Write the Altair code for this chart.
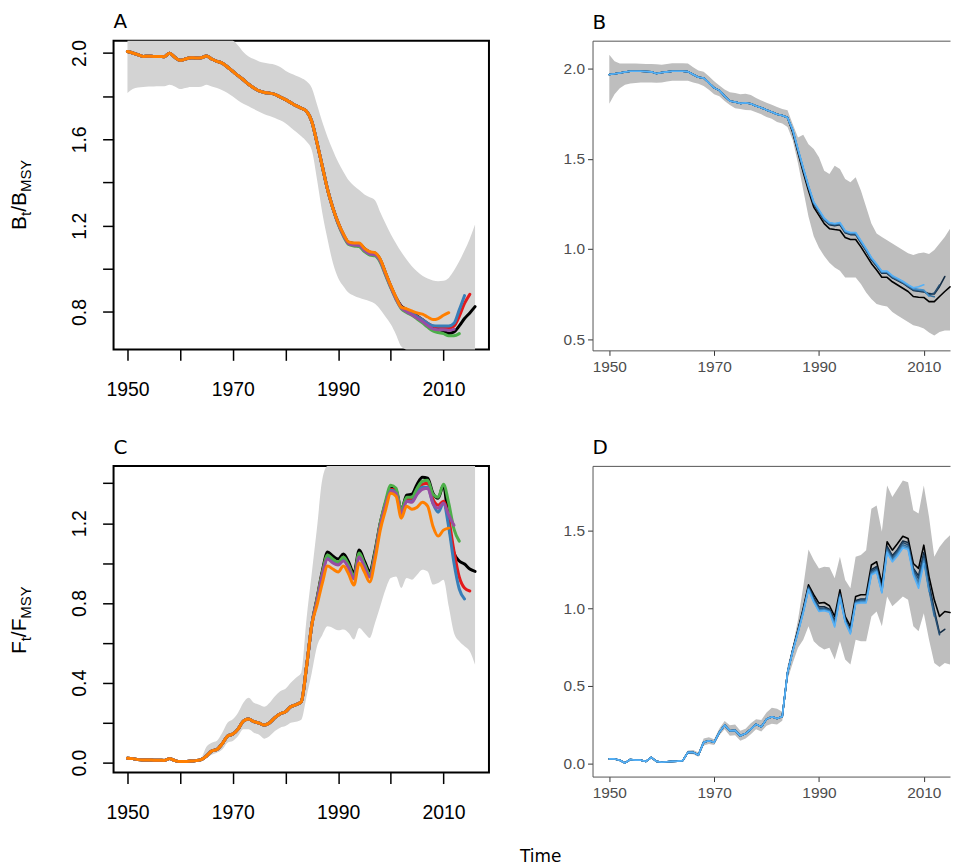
import altair as alt
import pandas as pd

# ---------------- data ----------------
YEARS_AC = list(range(1950, 2017))   # panels A and C
YEARS_BD = list(range(1950, 2016))   # panels B and D

# Panel A : Bt/BMSY (reference run + CI)
A_REF = [2.007, 2.000, 1.992, 1.984, 1.985, 1.984, 1.984, 1.983, 1.999, 1.980,
         1.966, 1.972, 1.978, 1.977, 1.978, 1.986, 1.972, 1.961, 1.953, 1.935,
         1.915, 1.895, 1.876, 1.855, 1.838, 1.824, 1.817, 1.814, 1.808, 1.796,
         1.784, 1.770, 1.756, 1.744, 1.730, 1.683, 1.583, 1.475, 1.367, 1.282,
         1.213, 1.159, 1.123, 1.118, 1.117, 1.093, 1.078, 1.073, 1.043, 0.981,
         0.920, 0.866, 0.827, 0.812, 0.799, 0.782, 0.765, 0.745, 0.727, 0.720,
         0.712, 0.701, 0.708, 0.736, 0.770, 0.796, 0.825]
A_HI = [2.20, 2.21, 2.21, 2.21, 2.21, 2.21, 2.21, 2.21, 2.22, 2.21,
        2.20, 2.20, 2.21, 2.21, 2.21, 2.21, 2.19, 2.16, 2.12, 2.09,
        2.065, 2.035, 2.005, 1.984, 1.972, 1.961, 1.955, 1.950, 1.946, 1.935,
        1.918, 1.905, 1.895, 1.884, 1.869, 1.838, 1.760, 1.680, 1.610, 1.550,
        1.495, 1.450, 1.410, 1.385, 1.365, 1.345, 1.332, 1.318, 1.262, 1.210,
        1.160, 1.118, 1.078, 1.043, 1.012, 0.988, 0.968, 0.955, 0.946, 0.943,
        0.945, 0.958, 0.992, 1.035, 1.085, 1.140, 1.205]
A_LO = [1.815, 1.833, 1.840, 1.843, 1.845, 1.845, 1.846, 1.846, 1.853, 1.845,
        1.833, 1.838, 1.843, 1.843, 1.844, 1.853, 1.845, 1.838, 1.827, 1.815,
        1.799, 1.780, 1.765, 1.753, 1.740, 1.728, 1.716, 1.708, 1.699, 1.688,
        1.675, 1.655, 1.635, 1.614, 1.590, 1.550, 1.413, 1.259, 1.136, 1.028,
        0.958, 0.920, 0.889, 0.876, 0.866, 0.858, 0.850, 0.838, 0.812, 0.778,
        0.743, 0.695, 0.640, 0.610, 0.590, 0.570, 0.555, 0.545, 0.535, 0.530,
        0.528, 0.528, 0.530, 0.530, 0.525, 0.515, 0.500]
# retrospective peels of panel A, own values from 1990 on
A_PEEL_FROM = 1990
A_RED = [1.213, 1.159, 1.122, 1.116, 1.115, 1.091, 1.076, 1.071, 1.041, 0.979,
         0.919, 0.865, 0.825, 0.808, 0.795, 0.780, 0.765, 0.748, 0.735, 0.730,
         0.728, 0.725, 0.735, 0.780, 0.840, 0.882]
A_BLUE = [1.212, 1.158, 1.121, 1.115, 1.113, 1.089, 1.074, 1.069, 1.039, 0.977,
          0.918, 0.864, 0.822, 0.806, 0.793, 0.778, 0.764, 0.748, 0.737, 0.735,
          0.735, 0.735, 0.748, 0.810, 0.876]
A_GREEN = [1.208, 1.152, 1.113, 1.106, 1.103, 1.080, 1.064, 1.060, 1.031, 0.971,
           0.912, 0.858, 0.815, 0.798, 0.785, 0.768, 0.750, 0.730, 0.712, 0.705,
           0.700, 0.690, 0.690, 0.700]
A_PURPLE = [1.210, 1.155, 1.117, 1.110, 1.108, 1.085, 1.069, 1.065, 1.036, 0.975,
            0.915, 0.860, 0.818, 0.802, 0.788, 0.772, 0.756, 0.738, 0.722, 0.718,
            0.718, 0.715, 0.720]
A_ORANGE = [1.215, 1.162, 1.125, 1.120, 1.120, 1.095, 1.080, 1.075, 1.045, 0.983,
            0.922, 0.868, 0.822, 0.815, 0.805, 0.796, 0.790, 0.777, 0.765, 0.770,
            0.785, 0.797]

# Panel C : Ft/FMSY
C_REF = [0.022, 0.020, 0.015, 0.013, 0.013, 0.012, 0.012, 0.011, 0.020, 0.010,
         0.005, 0.006, 0.008, 0.010, 0.015, 0.033, 0.058, 0.066, 0.095, 0.133,
         0.143, 0.168, 0.208, 0.218, 0.205, 0.198, 0.188, 0.200, 0.225, 0.245,
         0.255, 0.280, 0.290, 0.305, 0.480, 0.690, 0.825, 0.960, 1.055, 1.035,
         1.020, 1.045, 1.005, 0.950, 1.065, 1.010, 0.960, 1.060, 1.200, 1.300,
         1.375, 1.365, 1.265, 1.340, 1.345, 1.395, 1.430, 1.425, 1.350, 1.325,
         1.390, 1.200, 1.050, 1.010, 0.995, 0.970, 0.958]
C_HI = [0.026, 0.024, 0.019, 0.017, 0.017, 0.016, 0.016, 0.015, 0.024, 0.014,
        0.009, 0.010, 0.012, 0.015, 0.025, 0.080, 0.100, 0.110, 0.150, 0.200,
        0.217, 0.250, 0.300, 0.325, 0.300, 0.290, 0.280, 0.300, 0.333, 0.358,
        0.370, 0.400, 0.425, 0.450, 0.720, 0.950, 1.180, 1.420, 1.650, 1.700,
        1.720, 1.740, 1.740, 1.720, 1.760, 1.760, 1.750, 1.780, 1.850, 1.900,
        1.950, 1.950, 1.900, 1.950, 1.950, 1.980, 2.000, 2.000, 1.950, 1.950,
        1.980, 1.900, 1.800, 1.780, 1.770, 1.760, 1.750]
C_LO = [0.018, 0.016, 0.011, 0.009, 0.009, 0.008, 0.008, 0.007, 0.016, 0.006,
        0.002, 0.003, 0.004, 0.006, 0.010, 0.025, 0.040, 0.050, 0.066, 0.100,
        0.108, 0.133, 0.167, 0.167, 0.150, 0.140, 0.120, 0.133, 0.158, 0.175,
        0.183, 0.200, 0.205, 0.215, 0.330, 0.450, 0.583, 0.640, 0.683, 0.675,
        0.663, 0.667, 0.650, 0.617, 0.675, 0.650, 0.625, 0.700, 0.783, 0.867,
        0.925, 0.933, 0.875, 0.925, 0.917, 0.942, 0.967, 0.958, 0.892, 0.900,
        0.917, 0.783, 0.650, 0.608, 0.583, 0.558, 0.490]
C_PEEL_FROM = 1986
C_RED = [0.820, 0.950, 1.035, 1.015, 1.000, 1.025, 0.985, 0.930, 1.045, 0.990,
         0.940, 1.045, 1.195, 1.300, 1.370, 1.360, 1.255, 1.320, 1.320, 1.365,
         1.395, 1.400, 1.320, 1.290, 1.310, 1.220, 1.060, 0.930, 0.875, 0.860]
C_BLUE = [0.815, 0.945, 1.025, 1.005, 0.995, 1.020, 0.980, 0.925, 1.040, 0.985,
          0.935, 1.040, 1.190, 1.295, 1.365, 1.355, 1.250, 1.310, 1.310, 1.350,
          1.380, 1.380, 1.300, 1.255, 1.300, 1.180, 1.000, 0.870, 0.820]
C_GREEN = [0.820, 0.950, 1.040, 1.020, 1.005, 1.030, 0.990, 0.935, 1.050, 0.995,
           0.945, 1.050, 1.200, 1.310, 1.390, 1.375, 1.265, 1.330, 1.330, 1.375,
           1.410, 1.415, 1.345, 1.330, 1.395, 1.300, 1.170, 1.110]
C_PURPLE = [0.810, 0.940, 1.020, 1.000, 0.990, 1.010, 0.975, 0.920, 1.030, 0.980,
            0.930, 1.035, 1.185, 1.290, 1.360, 1.350, 1.245, 1.310, 1.305, 1.345,
            1.370, 1.375, 1.300, 1.275, 1.300, 1.240, 1.190]
C_ORANGE = [0.790, 0.900, 0.985, 0.970, 0.955, 0.985, 0.945, 0.890, 1.000, 0.955,
            0.905, 1.015, 1.165, 1.265, 1.350, 1.335, 1.225, 1.285, 1.270, 1.280,
            1.305, 1.285, 1.185, 1.135, 1.165, 1.175]

# Panel B : Bt/BMSY, second model
B_REF = [1.969, 1.973, 1.978, 1.983, 1.987, 1.987, 1.987, 1.986, 1.984, 1.975,
         1.980, 1.984, 1.987, 1.987, 1.987, 1.985, 1.969, 1.954, 1.950, 1.923,
         1.895, 1.881, 1.849, 1.822, 1.816, 1.809, 1.812, 1.807, 1.794, 1.785,
         1.772, 1.761, 1.748, 1.742, 1.730, 1.647, 1.536, 1.426, 1.325, 1.233,
         1.187, 1.141, 1.113, 1.108, 1.104, 1.064, 1.053, 1.053, 1.012, 0.966,
         0.920, 0.883, 0.843, 0.843, 0.818, 0.800, 0.782, 0.764, 0.736, 0.732,
         0.731, 0.708, 0.708, 0.736, 0.764, 0.790]
B_HI = [2.079, 2.043, 2.030, 2.030, 2.030, 2.030, 2.029, 2.028, 2.028, 2.026,
        2.024, 2.028, 2.031, 2.031, 2.031, 2.030, 2.010, 1.991, 1.985, 1.960,
        1.932, 1.908, 1.886, 1.871, 1.866, 1.860, 1.862, 1.855, 1.838, 1.825,
        1.813, 1.801, 1.789, 1.777, 1.770, 1.693, 1.619, 1.634, 1.582, 1.555,
        1.509, 1.435, 1.416, 1.462, 1.444, 1.389, 1.371, 1.398, 1.325, 1.233,
        1.141, 1.086, 1.067, 1.049, 1.031, 1.012, 0.994, 0.976, 0.967, 0.976,
        0.981, 0.972, 0.994, 1.031, 1.067, 1.113]
B_LO = [1.807, 1.860, 1.893, 1.912, 1.919, 1.922, 1.925, 1.925, 1.925, 1.923,
        1.925, 1.930, 1.934, 1.934, 1.934, 1.934, 1.925, 1.918, 1.906, 1.885,
        1.860, 1.848, 1.822, 1.800, 1.782, 1.777, 1.772, 1.770, 1.760, 1.748,
        1.733, 1.724, 1.706, 1.697, 1.678, 1.604, 1.476, 1.328, 1.181, 1.071,
        1.007, 0.961, 0.924, 0.897, 0.879, 0.842, 0.842, 0.842, 0.805, 0.759,
        0.722, 0.695, 0.686, 0.680, 0.650, 0.631, 0.613, 0.594, 0.576, 0.570,
        0.558, 0.536, 0.520, 0.539, 0.548, 0.548]
BD_PEEL_FROM = 1985
B_P1 = [1.655, 1.545, 1.440, 1.340, 1.250, 1.205, 1.160, 1.135, 1.130, 1.135,
        1.090, 1.080, 1.080, 1.035, 0.990, 0.940, 0.905, 0.865, 0.865, 0.840,
        0.825, 0.810, 0.790, 0.770, 0.765, 0.762, 0.752, 0.750, 0.792, 0.847]
B_P2 = [1.657, 1.548, 1.443, 1.343, 1.253, 1.208, 1.163, 1.138, 1.133, 1.138,
        1.093, 1.083, 1.083, 1.038, 0.993, 0.944, 0.908, 0.868, 0.868, 0.843,
        0.828, 0.812, 0.793, 0.773, 0.768, 0.765, 0.745, 0.755, 0.800]
B_P3 = [1.658, 1.550, 1.446, 1.346, 1.256, 1.211, 1.166, 1.141, 1.136, 1.141,
        1.096, 1.086, 1.086, 1.041, 0.996, 0.947, 0.911, 0.871, 0.871, 0.846,
        0.831, 0.815, 0.796, 0.777, 0.772, 0.768, 0.742, 0.735]
B_P4 = [1.660, 1.553, 1.449, 1.349, 1.259, 1.214, 1.169, 1.144, 1.139, 1.144,
        1.099, 1.089, 1.089, 1.044, 0.999, 0.950, 0.914, 0.874, 0.874, 0.849,
        0.834, 0.818, 0.799, 0.781, 0.776, 0.772, 0.738]
B_P5 = [1.662, 1.556, 1.452, 1.352, 1.262, 1.217, 1.172, 1.147, 1.142, 1.147,
        1.102, 1.092, 1.092, 1.047, 1.002, 0.953, 0.917, 0.877, 0.877, 0.852,
        0.837, 0.821, 0.802, 0.785, 0.790, 0.801]

# Panel D : Ft/FMSY, second model
D_REF = [0.028, 0.028, 0.019, 0.002, 0.024, 0.020, 0.020, 0.012, 0.038, 0.012,
         0.006, 0.010, 0.012, 0.014, 0.017, 0.070, 0.070, 0.053, 0.135, 0.145,
         0.135, 0.200, 0.246, 0.210, 0.212, 0.177, 0.192, 0.220, 0.252, 0.235,
         0.285, 0.300, 0.289, 0.302, 0.584, 0.734, 0.863, 1.000, 1.152, 1.088,
         1.034, 1.038, 1.017, 0.948, 1.120, 0.948, 0.884, 1.077, 1.088, 1.088,
         1.280, 1.301, 1.162, 1.430, 1.376, 1.419, 1.466, 1.451, 1.290, 1.258,
         1.408, 1.205, 1.055, 0.948, 0.980, 0.973]
D_HI = [0.032, 0.032, 0.023, 0.006, 0.028, 0.024, 0.024, 0.016, 0.042, 0.016,
        0.010, 0.014, 0.016, 0.018, 0.022, 0.082, 0.085, 0.070, 0.160, 0.168,
        0.155, 0.225, 0.273, 0.245, 0.250, 0.210, 0.222, 0.258, 0.284, 0.280,
        0.327, 0.359, 0.352, 0.332, 0.627, 0.756, 0.927, 1.140, 1.380, 1.312,
        1.258, 1.269, 1.265, 1.195, 1.333, 1.184, 1.130, 1.333, 1.344, 1.376,
        1.644, 1.665, 1.494, 1.794, 1.719, 1.772, 1.826, 1.815, 1.633, 1.612,
        1.794, 1.590, 1.333, 1.397, 1.440, 1.472]
D_LO = [0.024, 0.024, 0.015, -0.002, 0.020, 0.016, 0.016, 0.008, 0.034, 0.008,
        0.002, 0.006, 0.008, 0.010, 0.013, 0.060, 0.058, 0.042, 0.115, 0.125,
        0.118, 0.180, 0.220, 0.177, 0.180, 0.145, 0.160, 0.188, 0.220, 0.205,
        0.242, 0.255, 0.250, 0.274, 0.541, 0.648, 0.745, 0.798, 0.884, 0.788,
        0.756, 0.735, 0.745, 0.670, 0.788, 0.670, 0.638, 0.798, 0.788, 0.788,
        0.948, 0.980, 0.884, 1.077, 1.013, 1.045, 1.077, 1.056, 0.884, 0.852,
        0.969, 0.798, 0.648, 0.622, 0.648, 0.638]
D_P1 = [0.730, 0.855, 0.990, 1.140, 1.070, 1.010, 1.010, 0.995, 0.920, 1.095,
        0.930, 0.860, 1.050, 1.060, 1.060, 1.250, 1.270, 1.130, 1.400, 1.340,
        1.380, 1.435, 1.425, 1.260, 1.210, 1.360, 1.160, 0.990, 0.840, 0.865]
D_P2 = [0.728, 0.852, 0.985, 1.135, 1.060, 1.000, 1.000, 0.990, 0.910, 1.090,
        0.925, 0.855, 1.045, 1.055, 1.055, 1.240, 1.260, 1.120, 1.390, 1.330,
        1.370, 1.425, 1.410, 1.250, 1.190, 1.340, 1.130, 0.970, 0.830]
D_P3 = [0.726, 0.849, 0.980, 1.130, 1.052, 0.993, 0.995, 0.984, 0.900, 1.083,
        0.920, 0.848, 1.040, 1.048, 1.048, 1.230, 1.250, 1.112, 1.378, 1.318,
        1.360, 1.410, 1.398, 1.235, 1.165, 1.320, 1.120, 0.950]
D_P4 = [0.724, 0.846, 0.975, 1.125, 1.046, 0.986, 0.990, 0.980, 0.890, 1.076,
        0.915, 0.842, 1.035, 1.042, 1.042, 1.222, 1.242, 1.105, 1.368, 1.308,
        1.350, 1.400, 1.388, 1.225, 1.150, 1.305, 1.110]
D_P5 = [0.722, 0.843, 0.970, 1.120, 1.040, 0.980, 0.985, 0.975, 0.880, 1.070,
        0.910, 0.835, 1.030, 1.035, 1.035, 1.215, 1.235, 1.100, 1.360, 1.300,
        1.340, 1.390, 1.380, 1.215, 1.130, 1.290]

SET1 = ["#E41A1C", "#377EB8", "#4DAF4A", "#984EA3", "#FF7F00"]
BLUES = ["#132B43", "#244C70", "#346E9D", "#4590CA", "#56B1F7"]

# ---------------- helpers ----------------
R_FONT = "Liberation Sans"
LETTER_FONT = "DejaVu Sans"


def peel_series(years, ref, start, tail):
    k = years.index(start)
    vals = list(ref[:k]) + list(tail)
    return years[:len(vals)], vals


def line(years, vals, color, width, xs, ys, xaxis, yaxis, interp):
    df = pd.DataFrame({"year": years, "value": vals})
    return alt.Chart(df).mark_line(
        color=color, strokeWidth=width, interpolate=interp,
        strokeJoin="round", strokeCap="round"
    ).encode(
        x=alt.X("year:Q", scale=xs, axis=xaxis),
        y=alt.Y("value:Q", scale=ys, axis=yaxis),
    )


def band(years, lo, hi, color, xs, ys, xaxis, yaxis, interp):
    df = pd.DataFrame({"year": years, "lo": lo, "hi": hi})
    return alt.Chart(df).mark_area(
        color=color, interpolate=interp
    ).encode(
        x=alt.X("year:Q", scale=xs, axis=xaxis),
        y=alt.Y("lo:Q", scale=ys, axis=yaxis),
        y2="hi:Q",
    )


def text_piece(txt, size, x, y, dx, dy, angle, font, align="left", baseline="alphabetic"):
    df = pd.DataFrame({"t": [txt]})
    return alt.Chart(df).mark_text(
        align=align, baseline=baseline, angle=angle, font=font, fontSize=size,
        dx=dx, dy=dy, color="black"
    ).encode(x=alt.value(x), y=alt.value(y), text="t:N")


def ratio_title(main, x, y):
    # main letter, subscript t, "/"+main, subscript MSY
    w_main = {"B": 14.0, "F": 12.8}[main]
    return [
        text_piece(main, 21, x, y, 0, 0, 270, R_FONT),
        text_piece("t", 15, x, y, w_main, 5, 270, R_FONT),
        text_piece("/" + main, 21, x, y, w_main + 4.2, 0, 270, R_FONT),
        text_piece("MSY", 15, x, y, 2 * w_main + 10.0, 5, 270, R_FONT),
    ]


def panel_title(letter):
    return alt.TitleParams(letter, anchor="start", frame="group", font=LETTER_FONT,
                           fontSize=20, fontWeight="normal", color="black",
                           baseline="alphabetic", offset=-8)


# ---------------- R-style panels (A, C) ----------------
xs_AC = alt.Scale(domain=[1947.36, 2018.64], nice=False, zero=False)
ax_x_AC = alt.Axis(values=list(range(1950, 2011, 10)), format="d",
                   labelExpr="datum.value % 20 == 0 ? '' : datum.label",
                   tickSize=11, tickWidth=1.5, tickColor="black", domain=False,
                   grid=False, labelFont=R_FONT, labelFontSize=19.5, labelColor="black",
                   labelPadding=20, labelOverlap=False, labelFlush=False, title=None)


def r_yaxis(vals):
    return alt.Axis(values=vals, format=".1f",
                    labelExpr="round(datum.value*10) % 4 == 0 ? datum.label : ''",
                    labelAngle=270, labelAlign="center", labelBaseline="bottom",
                    tickSize=11, tickWidth=1.5, tickColor="black", domain=False,
                    grid=False, labelFont=R_FONT, labelFontSize=19.5, labelColor="black",
                    labelPadding=13, labelOverlap=False, title=None)


def r_panel(letter, ref, lo, hi, peel_from, peels, ydom, yvals, width, height, main, extra=()):
    ys = alt.Scale(domain=ydom, nice=False, zero=False, clamp=True)
    yax = r_yaxis(yvals)
    layers = [band(YEARS_AC, lo, hi, "#D3D3D3", xs_AC, ys, ax_x_AC, yax, "monotone")]
    layers.append(line(YEARS_AC, ref, "black", 3, xs_AC, ys, ax_x_AC, yax, "monotone"))
    for tail, col in zip(peels, SET1):
        yrs, vals = peel_series(YEARS_AC, ref, peel_from, tail)
        layers.append(line(yrs, vals, col, 3, xs_AC, ys, ax_x_AC, yax, "monotone"))
    layers += ratio_title(main, -88, height / 2 + 35)
    layers += list(extra)
    return alt.layer(*layers).properties(
        width=width, height=height, title=panel_title(letter),
        view=alt.ViewBackground(stroke="black", strokeWidth=2, fill="white"))


# ---------------- ggplot-style panels (B, D) ----------------
xs_BD = alt.Scale(domain=[1946.8, 2015.0], nice=False, zero=False)
GG_GREY = "#555555"
ax_x_BD = alt.Axis(values=[1950, 1970, 1990, 2010], format="d", tickSize=5,
                   tickColor="#333333", domain=True, domainColor=GG_GREY, domainWidth=1,
                   labelColor="#4D4D4D", labelFont=R_FONT, labelFontSize=15.5,
                   labelPadding=4, grid=False, labelFlush=False, title=None)
ax_top_BD = alt.Axis(orient="top", labels=False, ticks=False, domain=True,
                     domainColor=GG_GREY, domainWidth=1, grid=False, title=None)


def gg_yaxis(vals):
    return alt.Axis(values=vals, format=".1f", tickSize=5, tickColor="#333333",
                    domain=True, domainColor=GG_GREY, domainWidth=1,
                    labelColor="#4D4D4D", labelFont=R_FONT, labelFontSize=15.5,
                    labelPadding=3, grid=False, title=None)


def gg_panel(letter, ref, lo, hi, peels, ydom, yvals, width, height):
    ys = alt.Scale(domain=ydom, nice=False, zero=False)
    yax = gg_yaxis(yvals)
    b = band(YEARS_BD, lo, hi, "#BEBEBE", xs_BD, ys, ax_top_BD, yax, "linear")
    lines = [line(YEARS_BD, ref, "black", 1.6, xs_BD, ys, ax_x_BD, yax, "linear")]
    for tail, col in zip(peels, BLUES):
        yrs, vals = peel_series(YEARS_BD, ref, BD_PEEL_FROM, tail)
        lines.append(line(yrs, vals, col, 1.6, xs_BD, ys, ax_x_BD, yax, "linear"))
    return alt.layer(b, alt.layer(*lines)).resolve_axis(x="independent").properties(
        width=width, height=height, title=panel_title(letter),
        view=alt.ViewBackground(stroke="transparent", fill="white"))


time_label = text_piece("Time", 17, 429, 393, 0, 0, 0, LETTER_FONT,
                        align="center", baseline="middle")

pA = r_panel("A", A_REF, A_LO, A_HI, A_PEEL_FROM,
             [A_RED, A_BLUE, A_GREEN, A_PURPLE, A_ORANGE],
             [0.627, 2.057], [0.8, 1.0, 1.2, 1.4, 1.6, 1.8, 2.0], 377, 310, "B")
pB = gg_panel("B", B_REF, B_LO, B_HI, [B_P1, B_P2, B_P3, B_P4, B_P5],
              [0.437, 2.157], [0.5, 1.0, 1.5, 2.0], 359, 311)
pC = r_panel("C", C_REF, C_LO, C_HI, C_PEEL_FROM,
             [C_RED, C_BLUE, C_GREEN, C_PURPLE, C_ORANGE],
             [-0.05, 1.487], [0.0, 0.2, 0.4, 0.6, 0.8, 1.0, 1.2, 1.4], 377, 308, "F",
             extra=[time_label])
pD = gg_panel("D", D_REF, D_LO, D_HI, [D_P1, D_P2, D_P3, D_P4, D_P5],
              [-0.086, 1.92], [0.0, 0.5, 1.0, 1.5], 359, 312)

chart = alt.concat(pA, pB, pC, pD, columns=2, bounds="flush", align="all",
                   spacing={"row": 115, "column": 104}).properties(
    padding={"left": 0, "top": 0, "right": 0, "bottom": 2},
    background="white",
)

chart.save("out.html", embed_options={"renderer": "svg", "actions": False})
